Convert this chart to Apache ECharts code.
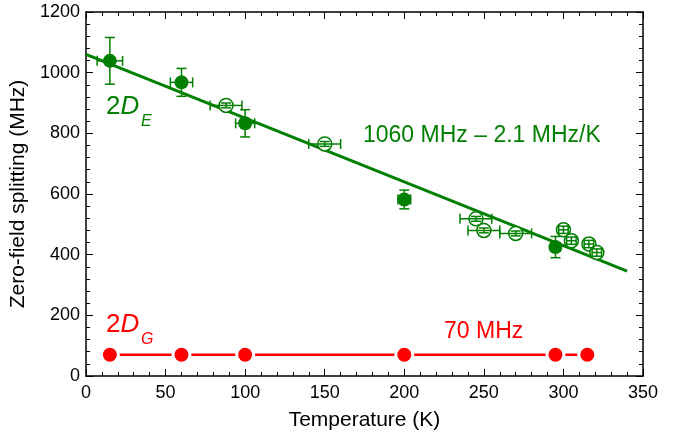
<!DOCTYPE html>
<html>
<head>
<meta charset="utf-8">
<script src="https://cdn.jsdelivr.net/npm/echarts@6/dist/echarts.min.js"></script>
<style>html,body{margin:0;padding:0;background:#fff}#c{width:694px;height:439px}</style>
</head>
<body>
<div id="c"></div>
<script>
// Filled green points: [T (K), 2D_E (MHz), xErr, yErr]
var filledE = [[15,1039,8,77],[60,968,7,46],[100,833,6,45],[200,582,4,31],[295,425,3,35]];
// Open green points: [T (K), 2D_E (MHz), xErr, yErr]
var openE = [[88,892,10,8],[150,765,10,8],[245,518,10,8],[250,480,10,8],[270,470,10,8],[300,482,3,12],[305,446,3,12],[316,435,3,12],[321,407,3,12]];
// Linear fit endpoints
var fitLine = [[0,1060],[340,346]];
// 2D_G points
var pointsG = [[15,70],[60,70],[100,70],[200,70],[295,70],[315,70]];
var xTicks = [0,50,100,150,200,250,300,350];
var yTicks = [0,200,400,600,800,1000,1200];

var GREEN = '#007f00';
var RED = '#ff0000';
var FONT = 'Liberation Sans, Arial, sans-serif';

var chart = echarts.init(document.getElementById('c'), null, {renderer:'canvas'});

function errRender(params, api) {
  var x = api.value(0), y = api.value(1), ex = api.value(2), ey = api.value(3);
  var c = api.coord([x, y]);
  var top = api.coord([x, y + ey]), bot = api.coord([x, y - ey]);
  var lft = api.coord([x - ex, y]), rgt = api.coord([x + ex, y]);
  var cap = 5;
  var st = {stroke: GREEN, lineWidth: 1.5};
  return {type:'group', children:[
    {type:'line', shape:{x1:c[0],y1:top[1],x2:c[0],y2:bot[1]}, style:st},
    {type:'line', shape:{x1:c[0]-cap,y1:top[1],x2:c[0]+cap,y2:top[1]}, style:st},
    {type:'line', shape:{x1:c[0]-cap,y1:bot[1],x2:c[0]+cap,y2:bot[1]}, style:st},
    {type:'line', shape:{x1:lft[0],y1:c[1],x2:rgt[0],y2:c[1]}, style:st},
    {type:'line', shape:{x1:lft[0],y1:c[1]-cap,x2:lft[0],y2:c[1]+cap}, style:st},
    {type:'line', shape:{x1:rgt[0],y1:c[1]-cap,x2:rgt[0],y2:c[1]+cap}, style:st}
  ]};
}

var axisLine = {show:true, onZero:false, lineStyle:{color:'#000', width:1.5}};
var tickStyle = {show:true, inside:true, length:7, lineStyle:{color:'#000', width:1}};
var minorTick = {show:true, splitNumber:5, length:4, lineStyle:{color:'#000', width:1}};
function plain(v){ return String(v); }

var option = {
  animation:false,
  backgroundColor:'#fff',
  grid:{left:86, right:51, top:12, bottom:63, containLabel:false, outerBoundsMode:'none'},
  xAxis:[{
    type:'value', min:xTicks[0], max:xTicks[xTicks.length-1], interval:50, position:'bottom',
    axisLine:axisLine, axisTick:tickStyle, minorTick:minorTick, splitLine:{show:false},
    axisLabel:{color:'#000', fontSize:18, fontFamily:FONT, margin:8, formatter:plain},
    name:'Temperature (K)', nameLocation:'middle', nameGap:34,
    nameTextStyle:{color:'#000', fontSize:21, fontFamily:FONT}
  },{
    type:'value', min:xTicks[0], max:xTicks[xTicks.length-1], interval:50, position:'top',
    axisLine:axisLine, axisTick:tickStyle, minorTick:minorTick, splitLine:{show:false},
    axisLabel:{show:false}
  }],
  yAxis:[{
    type:'value', min:yTicks[0], max:yTicks[yTicks.length-1], interval:200, position:'left',
    axisLine:axisLine, axisTick:tickStyle, minorTick:minorTick, splitLine:{show:false},
    axisLabel:{color:'#000', fontSize:18, fontFamily:FONT, margin:6, formatter:plain},
    name:'Zero-field splitting (MHz)', nameLocation:'middle', nameGap:49,
    nameTextStyle:{color:'#000', fontSize:21, fontFamily:FONT}
  },{
    type:'value', min:yTicks[0], max:yTicks[yTicks.length-1], interval:200, position:'right',
    axisLine:axisLine, axisTick:tickStyle, minorTick:minorTick, splitLine:{show:false},
    axisLabel:{show:false}
  }],
  series:[
    {type:'line', data:fitLine, symbol:'none', lineStyle:{color:GREEN, width:3}, z:1, silent:true},
    {type:'line', data:pointsG, symbol:'circle', symbolSize:17,
      itemStyle:{color:RED, borderColor:'#fff', borderWidth:3},
      lineStyle:{color:RED, width:2.5}, z:2},
    {type:'scatter', data:filledE.map(function(d){return [d[0],d[1]];}), symbol:'circle', symbolSize:14,
      itemStyle:{color:GREEN, opacity:1}, z:3},
    {type:'scatter', data:openE.map(function(d){return [d[0],d[1]];}), symbol:'circle', symbolSize:14,
      itemStyle:{color:'#fff', borderColor:GREEN, borderWidth:1.5, opacity:1}, z:3},
    {type:'custom', data:filledE.concat(openE), renderItem:errRender, z:4, silent:true}
  ],
  graphic:[
    {type:'text', left:106, top:94, z:10, style:{text:'2{i|D}', fill:GREEN, font:'26px '+FONT,
      rich:{i:{fontStyle:'italic', fontSize:26, fontFamily:FONT, fill:GREEN}}}},
    {type:'text', left:141, top:114, z:10, style:{text:'E', fill:GREEN, font:'italic 16px '+FONT}},
    {type:'text', left:106, top:312, z:10, style:{text:'2{i|D}', fill:RED, font:'26px '+FONT,
      rich:{i:{fontStyle:'italic', fontSize:26, fontFamily:FONT, fill:RED}}}},
    {type:'text', left:141, top:332, z:10, style:{text:'G', fill:RED, font:'italic 16px '+FONT}},
    {type:'text', left:363, top:124, z:10, style:{text:'1060 MHz \u2013 2.1 MHz/K', fill:GREEN, font:'23px '+FONT}},
    {type:'text', left:444, top:320, z:10, style:{text:'70 MHz', fill:RED, font:'23px '+FONT}}
  ]
};
chart.setOption(option);
</script>
</body>
</html>
